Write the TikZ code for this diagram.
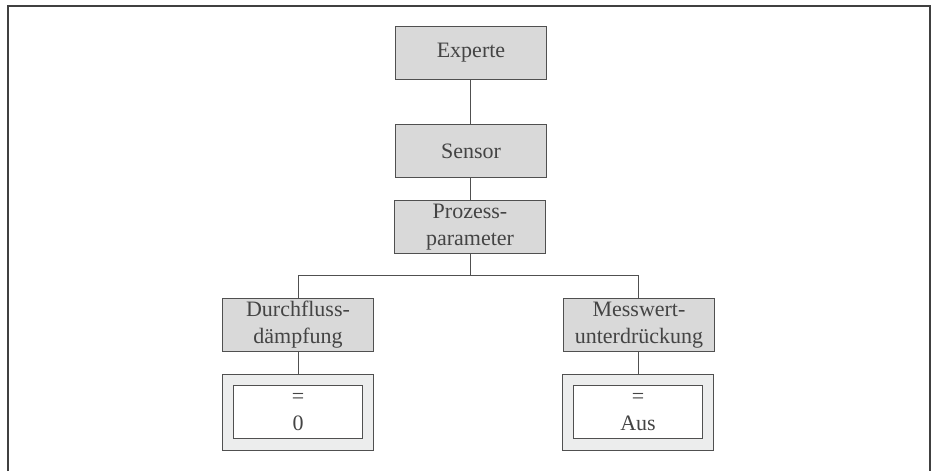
\documentclass[tikz,border=0pt]{standalone}
\usepackage{fontspec}
\setmainfont{Liberation Serif}
\definecolor{boxgray}{HTML}{D9D9D9}
\definecolor{valgray}{HTML}{ECEDED}
\definecolor{linegray}{HTML}{505050}
\definecolor{textgray}{HTML}{444444}
\tikzset{
  x=1pt,y=-1pt,
  menubox/.style={draw=linegray,line width=1.1pt,fill=boxgray,minimum width=151pt,minimum height=53pt,inner sep=0pt,align=center,text=textgray,font=\fontsize{22}{27}\selectfont},
  outerbox/.style={draw=linegray,line width=1.1pt,fill=valgray,minimum width=151pt,minimum height=76pt,inner sep=0pt},
  innerbox/.style={draw=linegray,line width=1.1pt,fill=white,minimum width=129pt,minimum height=53pt,inner sep=0pt,align=center,text=textgray,font=\fontsize{22}{27}\selectfont},
  conn/.style={draw=linegray,line width=1.1pt},
}
\begin{document}
\begin{tikzpicture}
\useasboundingbox (0,0) rectangle (936,471);
\draw[line width=2pt,draw=black!75] (8,471) -- (8,6) -- (930,6) -- (930,471);
\node[menubox] (exp) at (471,53) {Experte};
\node[menubox] (sen) at (471,151) {Sensor};
\node[menubox] (pro) at (470,227) {Prozess-\\parameter};
\node[menubox] (dur) at (298,325) {Durchfluss-\\dämpfung};
\node[menubox] (mes) at (639,325) {Messwert-\\unterdrückung};
\node[outerbox] (o1) at (298,412.5) {};
\node[innerbox] (i1) at (298,412) {=\\0};
\node[outerbox] (o2) at (638,412.5) {};
\node[innerbox] (i2) at (638,412) {=\\Aus};
\coordinate (mid) at (470.5,275.5);
\coordinate (lft) at (298.5,275.5);
\coordinate (rgt) at (638.5,275.5);
\draw[conn] (mid |- exp.south) -- (mid |- sen.north);
\draw[conn] (mid |- sen.south) -- (mid |- pro.north);
\draw[conn] (mid |- pro.south) -- (mid);
\draw[conn] (lft |- dur.north) -- (lft) -- (rgt) -- (rgt |- mes.north);
\draw[conn] (lft |- dur.south) -- (lft |- o1.north);
\draw[conn] (rgt |- mes.south) -- (rgt |- o2.north);
\end{tikzpicture}
\end{document}
